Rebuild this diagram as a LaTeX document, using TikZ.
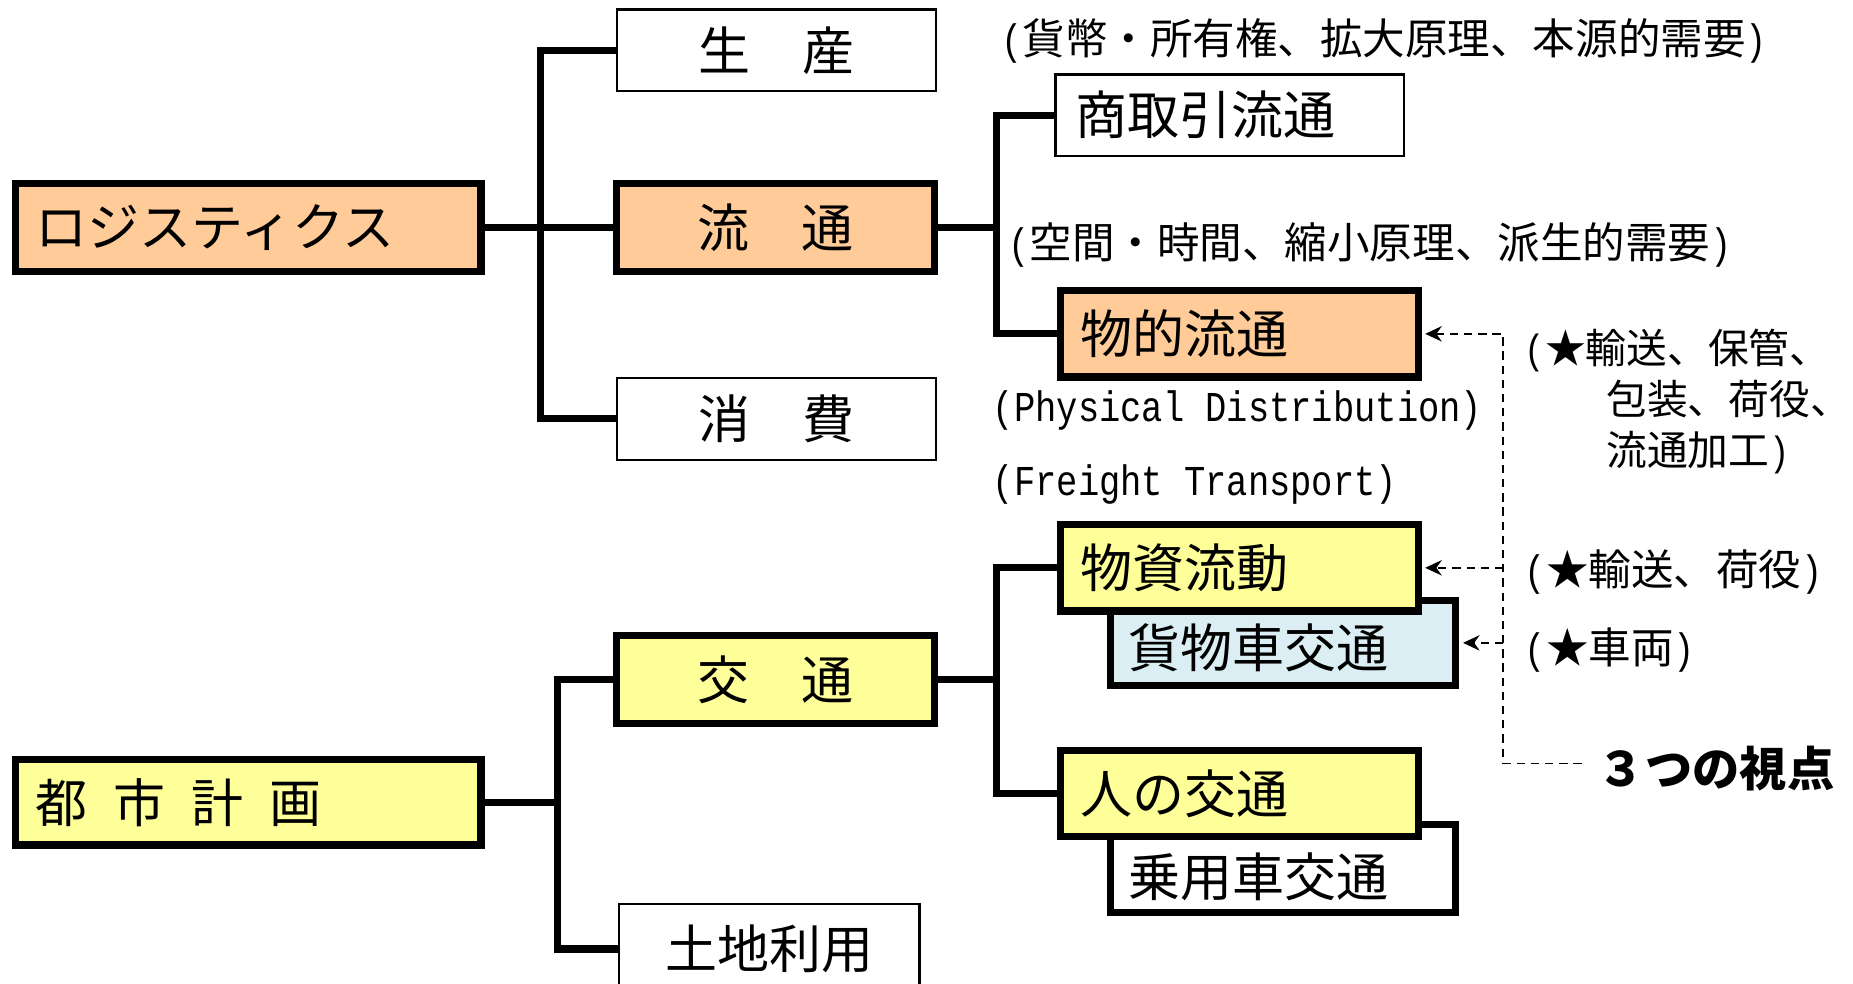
\documentclass[tikz,border=0pt]{standalone}
\usepackage{fontspec}
\setmainfont{Noto Sans CJK JP}
\newfontfamily\monohalf[FakeStretch=0.8333]{Liberation Mono}
\usetikzlibrary{arrows.meta}
\definecolor{boxorange}{HTML}{FFCC99}
\definecolor{boxyellow}{HTML}{FFFF99}
\definecolor{boxblue}{HTML}{DAEEF3}
\begin{document}
\begin{tikzpicture}[x=1pt,y=-1pt,
  bigfont/.style={font=\fontsize{44}{52}\selectfont},
  thickbox/.style={bigfont, draw=black, line width=6pt, rectangle, inner sep=0pt},
  thinbox/.style={bigfont, draw=black, line width=2pt, fill=white, rectangle, inner sep=0pt},
  lefttext/.style={inner xsep=17pt, text width=#1, align=left},
  boxtxt/.style={bigfont, inner sep=0pt, anchor=west},
  conn/.style={line width=6pt, black},
  dline/.style={line width=1.5pt, black, dash pattern=on 7pt off 5pt},
  tip/.style={-{Stealth[length=14pt,width=13pt]}},
  lab/.style={font=\fontsize{36}{43}\selectfont, inner sep=0pt, anchor=west},
]
\useasboundingbox (0,0) rectangle (1568,832);
\clip (0,0) rectangle (1568,832);

% left boxes
\node[thickbox, fill=boxorange, minimum width=394pt, minimum height=74pt, lefttext=360pt] (logi) at (210,192.5) {ロジスティクス};
\node[thickbox, fill=boxyellow, minimum width=394pt, minimum height=72pt, lefttext=360pt] (toshi) at (210,679) {都\hspace{0.5em}市\hspace{0.5em}計\hspace{0.5em}画};

% middle boxes
\node[thinbox, minimum width=270pt, minimum height=69pt] (seisan) at (657,42.5) {生\hspace{1em}産};
\node[thickbox, fill=boxorange, minimum width=269pt, minimum height=74pt] (ryutsu) at (656.5,192.5) {流\hspace{1em}通};
\node[thinbox, minimum width=270pt, minimum height=69pt] (shouhi) at (657,354.5) {消\hspace{1em}費};
\node[thickbox, fill=boxyellow, minimum width=269pt, minimum height=74pt] (koutsu) at (656.5,575) {交\hspace{1em}通};
\node[thinbox, minimum width=254pt, minimum height=76pt] (tochi) at (651,803) {土地利用};

% right boxes
\node[thinbox, minimum width=295pt, minimum height=69pt, lefttext=261pt] (shoutorihiki) at (1040.5,97.5) {商取引流通};
\node[thickbox, fill=boxorange, minimum width=303pt, minimum height=73pt, lefttext=269pt] (butsuteki) at (1048.5,282.5) {物的流通};

\node[thickbox, fill=boxblue, minimum width=292pt, minimum height=72pt] (kamotsu) at (1086,544) {};
\node[boxtxt] (kamotsut) at ([xshift=18pt,yshift=-4pt]kamotsu.west) {貨物車交通};
\node[thickbox, fill=boxyellow, minimum width=303pt, minimum height=73pt, lefttext=269pt] (busshi) at (1048.5,480.5) {物資流動};

\node[thickbox, fill=white, minimum width=292pt, minimum height=74pt] (jouyousha) at (1086,735) {};
\node[boxtxt] (jouyoushat) at ([xshift=18pt,yshift=-7pt]jouyousha.west) {乗用車交通};
\node[thickbox, fill=boxyellow, minimum width=303pt, minimum height=73pt, lefttext=269pt] (hito) at (1048.5,671.5) {人の交通};

% junctions
\coordinate (j1) at (457,192.5);
\coordinate (j2) at (843,192.5);
\coordinate (j3) at (472,679);
\coordinate (j4) at (843,575);

% connectors
\draw[conn] (logi.east) -- (ryutsu.west);
\draw[conn] (seisan.west) -| (j1) |- (shouhi.west);
\draw[conn] (ryutsu.east) -- (j2);
\draw[conn] (shoutorihiki.west) -| (j2) |- (butsuteki.west);
\draw[conn] (toshi.east) -- (j3);
\draw[conn] (koutsu.west) -| (j3) |- (tochi.west);
\draw[conn] (koutsu.east) -- (j4);
\draw[conn] (busshi.west) -| (j4) |- (hito.west);

% dashed pointers
\coordinate (d1) at (1272,282.5);
\coordinate (d2) at (1272,646);
\coordinate (d3) at (1340,646);
\draw[dline, {Stealth[length=14pt,width=13pt]}-] ([xshift=3pt]butsuteki.east) -- (d1) -- (d2) -- (d3);
\draw[dline, tip] (d1 |- busshi.east) -- ([xshift=3pt]busshi.east);
\draw[dline, tip] (d1 |- kamotsu.east) -- ([xshift=3pt]kamotsu.east);

% labels
\node[lab] (l1) at (847,35) {{\monohalf(}貨幣・所有権、拡大原理、本源的需要{\monohalf)}};
\node[lab] (l2) at (853,207) {{\monohalf(}空間・時間、縮小原理、派生的需要{\monohalf)}};
\node[lab] (pd) at (840,347) {\monohalf (Physical Distribution)};
\node[lab] (ft) at (840,410) {\monohalf (Freight Transport)};
\node[lab, font=\fontsize{34.5}{43}\selectfont, align=left] (s1) at (1290,340) {{\monohalf(}★輸送、保管、\\\hspace*{2em}包装、荷役、\\\hspace*{2em}流通加工{\monohalf)}};
\node[lab] (s2) at (1290,484) {{\monohalf(}★輸送、荷役{\monohalf)}};
\node[lab] (s3) at (1290,550) {{\monohalf(}★車両{\monohalf)}};
\node[lab, font=\fontsize{40}{48}\selectfont\bfseries] (v3) at (1352,650) {３つの視点};
\end{tikzpicture}
\end{document}
